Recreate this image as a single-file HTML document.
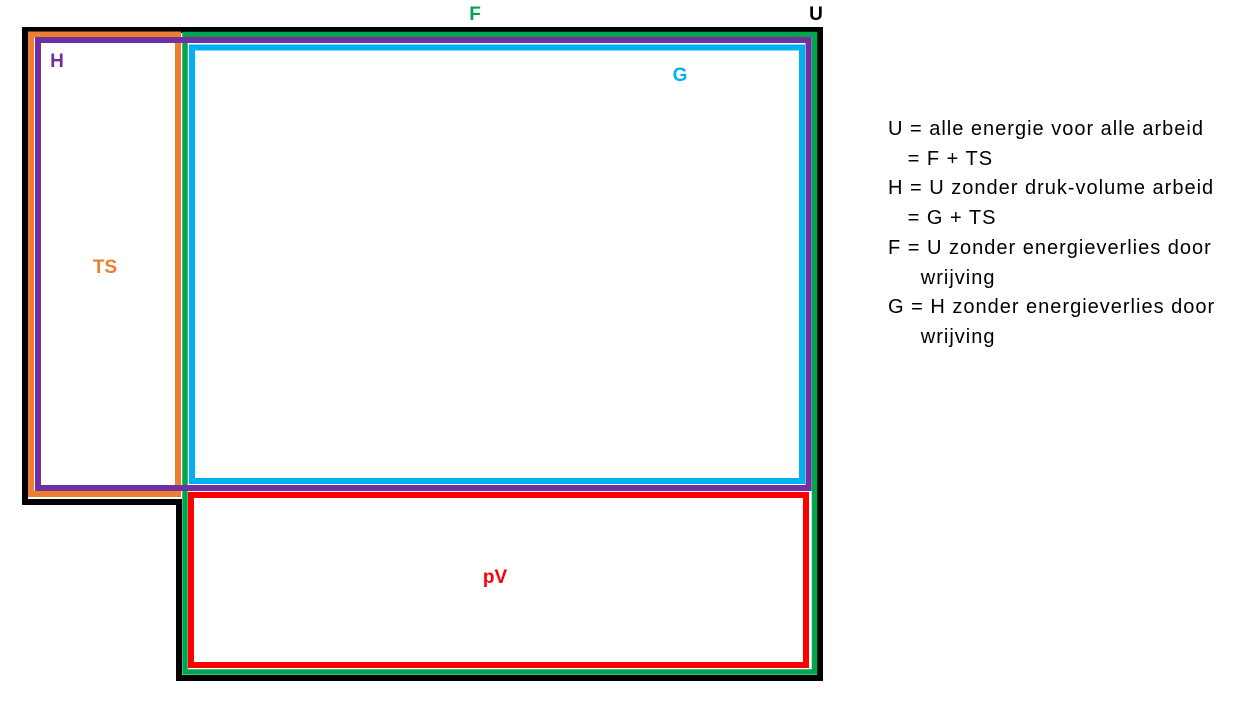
<!DOCTYPE html>
<html><head><style>
body{margin:0;width:1254px;height:709px;background:#fff;overflow:hidden;position:relative;font-family:"Liberation Sans",sans-serif}
.l{position:absolute;font-weight:bold;font-size:19px;transform:translate(-50%,-50%)}
.t{position:absolute;left:888px;top:115px;font-size:20px;letter-spacing:1px;line-height:29.7px;color:#000;white-space:pre}
</style></head><body>
<svg width="1254" height="709" style="position:absolute;left:0;top:0">
<polygon points="25,30 820,30 820,678 179,678 179,502 25,502" fill="none" stroke="#000" stroke-width="6"/>
<rect x="31" y="34.5" width="147" height="459.5" fill="none" stroke="#ED7D31" stroke-width="6"/>
<rect x="185" y="34.5" width="629.5" height="637.5" fill="none" stroke="#00A550" stroke-width="5.5"/>
<rect x="38" y="40" width="770.5" height="448" fill="none" stroke="#7030A0" stroke-width="6"/>
<rect x="192" y="47.5" width="610" height="433.5" fill="none" stroke="#00B0F0" stroke-width="6"/>
<rect x="191" y="495" width="615" height="170" fill="none" stroke="#FF0000" stroke-width="6"/>
</svg>
<div class="l" style="left:475px;top:15px;color:#00A550">F</div>
<div class="l" style="left:816px;top:15px;color:#000">U</div>
<div class="l" style="left:57px;top:62px;color:#7030A0">H</div>
<div class="l" style="left:680px;top:76px;color:#00B0F0">G</div>
<div class="l" style="left:105px;top:268px;color:#ED7D31">TS</div>
<div class="l" style="left:495px;top:578px;color:#FF0000">pV</div>
<div class="t">U = alle energie voor alle arbeid
   = F + TS
H = U zonder druk-volume arbeid
   = G + TS
F = U zonder energieverlies door
     wrijving
G = H zonder energieverlies door
     wrijving</div>
</body></html>
